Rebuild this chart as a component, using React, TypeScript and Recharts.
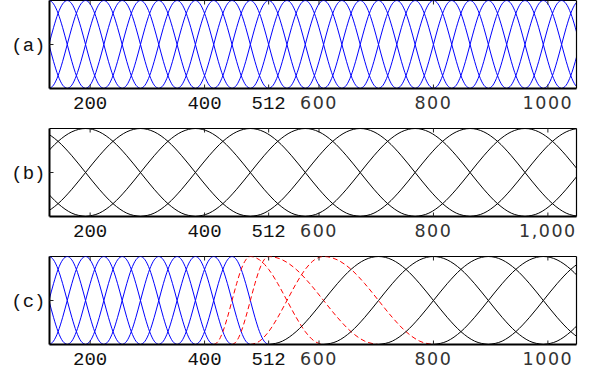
import { LineChart, Line, XAxis, YAxis, ReferenceLine } from 'recharts'

// tick positions (samples) and their printed labels
const xTicks = [200, 400, 512, 600, 800, 1000]
const monoTicks = [200, 400, 512]
const labelsA = ['200', '400', '512', '600', '800', '1000']
const labelsB = ['200', '400', '512', '600', '800', '1,000']
const labelsC = ['200', '400', '512', '600', '800', '1000']

// rising edge of one window, read as fraction of the slope -> height
const riseAt = [0, 0.125, 0.25, 0.375, 0.5, 0.625, 0.75, 0.875, 1]
const rise = [0, 0.038, 0.146, 0.309, 0.5, 0.691, 0.854, 0.962, 1]

// window peaks; window k rises from knots[k-2] and falls to knots[k+2]
const knotsA = [32, 64, 96, 128, 160, 192, 224, 256, 288, 320, 352, 384, 416, 448, 480, 512, 544, 576,
  608, 640, 672, 704, 736, 768, 800, 832, 864, 896, 928, 960, 992, 1024, 1056, 1088, 1120, 1152]
const knotsB = [-192, -96, 0, 96, 192, 288, 384, 480, 576, 672, 768, 864, 960, 1056, 1152, 1248, 1344]
const knotsC = [32, 64, 96, 128, 160, 192, 224, 256, 288, 320, 352, 384, 416, 448, 480, 512,
  608, 704, 800, 896, 992, 1088, 1184, 1280, 1376]
const redPeaksC = [480, 512, 608]

const BLUE = '#0000ff'
const RED = '#ff0000'
const BLACK = '#000000'
const PLOT_H = 88

type Win = { pts: { x: number; y: number }[]; color: string; dashed?: boolean }

function windowPoints(knots: number[], k: number) {
  const a = knots[k - 2], p = knots[k], b = knots[k + 2]
  const up = riseAt.map((f, i) => ({ x: a + (p - a) * f, y: rise[i] }))
  const down = riseAt.slice(1).map((f, i) => ({ x: p + (b - p) * f, y: rise[rise.length - 2 - i] }))
  return [...up, ...down]
}

function buildWindows(knots: number[], colorOf: (peak: number) => string): Win[] {
  const out: Win[] = []
  for (let k = 2; k < knots.length - 2; k++) {
    const c = colorOf(knots[k])
    out.push({ pts: windowPoints(knots, k), color: c, dashed: c === RED })
  }
  return out
}

const winA = buildWindows(knotsA, () => BLUE)
const winB = buildWindows(knotsB, () => BLACK)
const winC = buildWindows(knotsC, p => (redPeaksC.includes(p) ? RED : p < redPeaksC[0] ? BLUE : BLACK))

function XTick(props: any) {
  const { x, y, payload, labels } = props
  const i = xTicks.indexOf(payload.value)
  const mono = monoTicks.includes(payload.value)
  return (
    <g>
      <line x1={x} x2={x} y1={y} y2={y - 4} stroke="#222" />
      <line x1={x} x2={x} y1={y - PLOT_H} y2={y - PLOT_H + 4} stroke="#222" />
      <text x={x} y={y + 20} textAnchor="middle"
        fontFamily={mono ? 'Liberation Mono' : 'DejaVu Sans'}
        fontSize={mono ? 19 : 17.5} letterSpacing={mono ? 0 : 1.5}
        fill={mono ? '#111' : '#333'}>{labels[i]}</text>
    </g>
  )
}

function YTickLeft(props: any) {
  const { x, y, label } = props
  return (
    <g>
      <line x1={x} x2={x + 4} y1={y} y2={y} stroke="#222" />
      <text x={x - 4} y={y + 6} textAnchor="end" fontFamily="Liberation Mono" fontSize={19} fill="#111">{label}</text>
    </g>
  )
}

function YTickRight(props: any) {
  const { x, y } = props
  return <line x1={x} x2={x - 4} y1={y} y2={y} stroke="#222" />
}

function Panel({ label, wins, labels, height }: { label: string; wins: Win[]; labels: string[]; height: number }) {
  return (
    <div style={{ width: 591, height }}>
      <LineChart width={591} height={height} margin={{ top: 0.5, right: 13.5, left: 48.5, bottom: height - 0.5 - PLOT_H - 30 }}>
        <XAxis dataKey="x" type="number" domain={[129, 1050]} allowDataOverflow ticks={xTicks}
          height={30} tickSize={0} tickMargin={0}
          axisLine={{ stroke: BLACK, strokeWidth: 2 }}
          tick={(p: any) => <XTick {...p} labels={labels} />} />
        <YAxis type="number" domain={[0, 1]} allowDataOverflow ticks={[0.5]} width={1}
          tickSize={0} tickMargin={0} axisLine={{ stroke: BLACK, strokeWidth: 2 }}
          tick={(p: any) => <YTickLeft {...p} label={label} />} />
        <YAxis yAxisId="right" orientation="right" type="number" domain={[0, 1]} ticks={[0.5]} width={1}
          tickSize={0} tickMargin={0} axisLine={{ stroke: BLACK, strokeWidth: 1.2 }}
          tick={(p: any) => <YTickRight {...p} />} />
        <ReferenceLine y={1} stroke={BLACK} strokeWidth={1.2} />
        {wins.map((w, i) => (
          <Line key={i} data={w.pts} dataKey="y" type="monotone" stroke={w.color} strokeWidth={1}
            strokeDasharray={w.dashed ? '5 3' : undefined} dot={false} activeDot={false}
            isAnimationActive={false} />
        ))}
      </LineChart>
    </div>
  )
}

export default function App() {
  return (
    <div style={{ width: 591, height: 376, overflow: 'hidden', background: '#fff' }}>
      <style>{'body{margin:0}'}</style>
      <Panel label="(a)" wins={winA} labels={labelsA} height={128} />
      <Panel label="(b)" wins={winB} labels={labelsB} height={128} />
      <Panel label="(c)" wins={winC} labels={labelsC} height={120} />
    </div>
  )
}
